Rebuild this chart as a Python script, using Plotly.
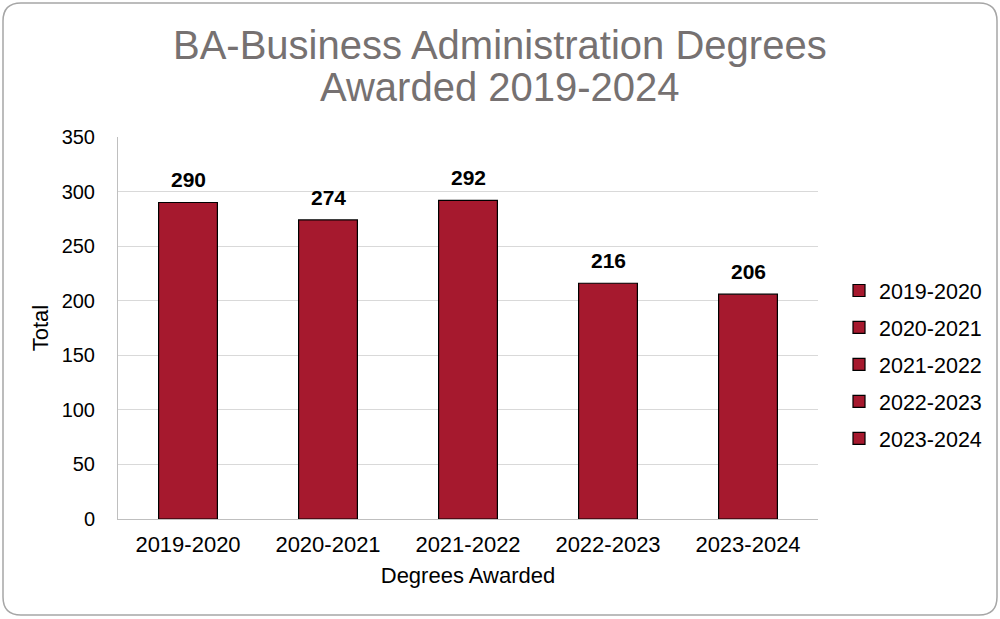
import plotly.graph_objects as go

# Data
years = ['2019-2020', '2020-2021', '2021-2022', '2022-2023', '2023-2024']
totals = [290, 274, 292, 216, 206]
y_ticks = [0, 50, 100, 150, 200, 250, 300, 350]

bar_color = '#A6192E'
font_family = 'Liberation Sans, Arial, sans-serif'

W, H = 1000, 619
margin = dict(l=118, r=182, t=137, b=100)
plot_w = W - margin['l'] - margin['r']
plot_h = H - margin['t'] - margin['b']


def px_to_paper(px, py):
    return (px - margin['l']) / plot_w, (H - margin['b'] - py) / plot_h


fig = go.Figure()

# one trace per year so each gets its own legend entry
for yr, val in zip(years, totals):
    fig.add_trace(go.Bar(
        name=yr,
        x=[yr],
        y=[val],
        width=0.42,
        marker=dict(color=bar_color, line=dict(color='#000000', width=1.2)),
        legendgroup=yr,
        hovertemplate='%{x}: %{y}<extra></extra>',
    ))
    # value label sitting a bit above the bar
    fig.add_annotation(x=yr, y=val, text=f'<b>{val}</b>', showarrow=False,
                       xanchor='center', yanchor='bottom', yshift=9,
                       font=dict(family=font_family, size=21, color='#000000'))

# rounded border around the whole chart
x0, y0 = px_to_paper(3, 615)
x1, y1 = px_to_paper(997, 3)
rx = 18 / plot_w
ry = 18 / plot_h
path = (
    f"M {x0 + rx},{y0} L {x1 - rx},{y0} Q {x1},{y0} {x1},{y0 + ry} "
    f"L {x1},{y1 - ry} Q {x1},{y1} {x1 - rx},{y1} "
    f"L {x0 + rx},{y1} Q {x0},{y1} {x0},{y1 - ry} "
    f"L {x0},{y0 + ry} Q {x0},{y0} {x0 + rx},{y0} Z"
)
fig.add_shape(type='path', path=path, xref='paper', yref='paper',
              line=dict(color='#A6A6A6', width=1.5), layer='below')

# title lines
title_color = '#767171'
for txt, py in [('BA-Business Administration Degrees', 45), ('Awarded 2019-2024', 87)]:
    fx, fy = px_to_paper(500, py)
    fig.add_annotation(text=txt, x=fx, y=fy, xref='paper', yref='paper',
                       showarrow=False, xanchor='center', yanchor='middle',
                       font=dict(family=font_family, size=40, color=title_color))

fig.update_layout(
    width=W,
    height=H,
    margin=margin,
    paper_bgcolor='white',
    plot_bgcolor='white',
    barmode='overlay',
    font=dict(family=font_family, size=20, color='#000000'),
    showlegend=True,
    legend=dict(
        x=px_to_paper(839, 0)[0],
        y=px_to_paper(0, 270)[1],
        xanchor='left',
        yanchor='top',
        font=dict(family=font_family, size=21.5, color='#000000'),
        tracegroupgap=6,
        itemwidth=30,
        bgcolor='rgba(0,0,0,0)',
    ),
    xaxis=dict(
        title=dict(text='Degrees Awarded', font=dict(size=22), standoff=11),
        showline=True,
        linecolor='#BFBFBF',
        linewidth=1,
        ticks='',
        tickfont=dict(size=22),
        ticklabelstandoff=6,
        categoryorder='array',
        categoryarray=years,
    ),
    yaxis=dict(
        title=dict(text='Total', font=dict(size=22), standoff=6),
        range=[0, 350],
        tickvals=y_ticks,
        showgrid=True,
        gridcolor='#D9D9D9',
        gridwidth=1,
        showline=True,
        linecolor='#BFBFBF',
        linewidth=1,
        zeroline=False,
        ticks='',
        tickfont=dict(size=20),
        ticklabelstandoff=18,
    ),
)

fig.write_html('out.html', config={'displayModeBar': False},
               post_script="document.body.style.margin='0';")
